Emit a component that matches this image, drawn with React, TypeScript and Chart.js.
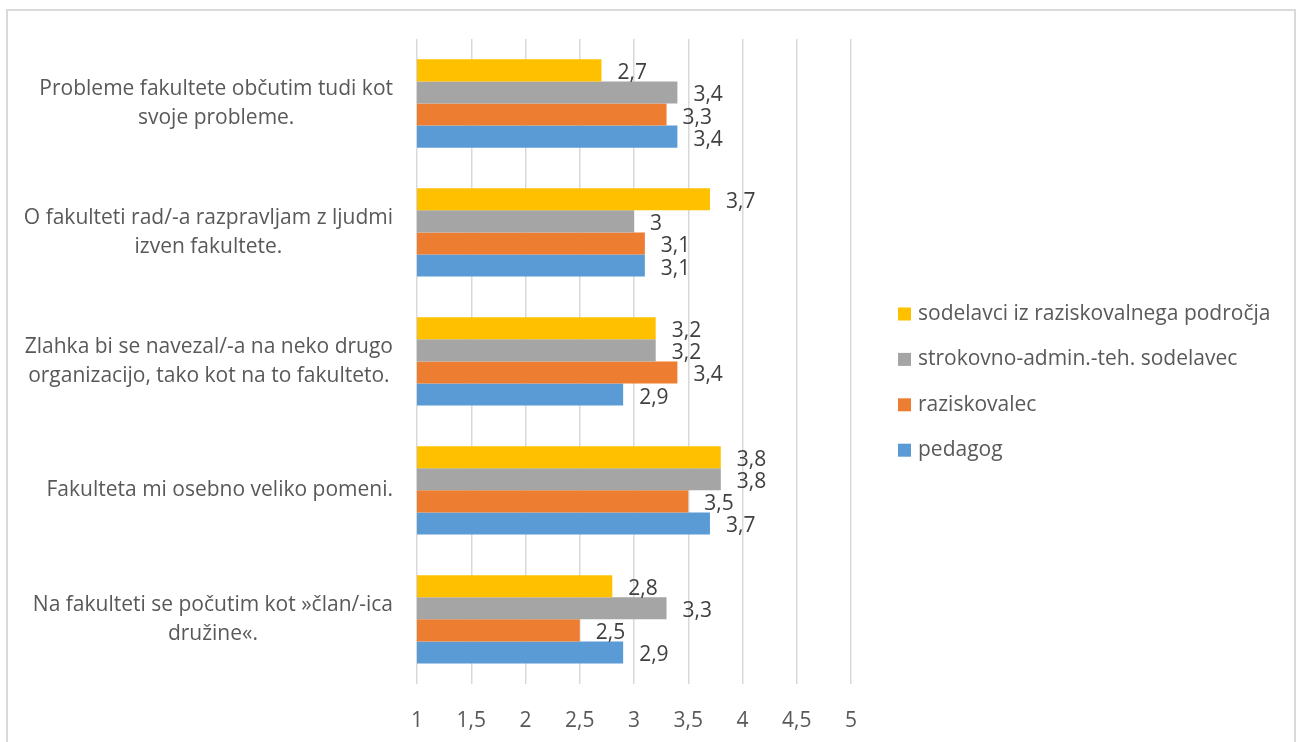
import React, { useEffect, useRef } from "react";
import { Chart, registerables } from "chart.js";

Chart.register(...registerables);

const categories: string[][] = [
  ["Probleme fakultete občutim tudi kot", "svoje probleme."],
  ["O fakulteti rad/-a razpravljam z ljudmi", "izven fakultete."],
  ["Zlahka bi se navezal/-a na neko drugo", "organizacijo, tako kot na to fakulteto."],
  ["Fakulteta mi osebno veliko pomeni."],
  ["Na fakulteti se počutim kot »član/-ica", "družine«."],
];

const seriesNames = [
  "sodelavci iz raziskovalnega področja",
  "strokovno-admin.-teh. sodelavec",
  "raziskovalec",
  "pedagog",
];
const seriesColors = ["#FFC000", "#A5A5A5", "#ED7D31", "#5B9BD5"];

const sodelavci = [2.7, 3.7, 3.2, 3.8, 2.8];
const strokovno = [3.4, 3.0, 3.2, 3.8, 3.3];
const raziskovalec = [3.3, 3.1, 3.4, 3.5, 2.5];
const pedagog = [3.4, 3.1, 2.9, 3.7, 2.9];

const xMin = 1;
const xMax = 5;
const xStep = 0.5;

const FONT = "'Open Sans', sans-serif";
const FS = 21;
const fmt = (v: number) => String(v).replace(".", ",");

const categoryLabelPlugin = {
  id: "categoryLabels",
  afterDraw(chart: any) {
    const { ctx, chartArea } = chart;
    const yScale = chart.scales.y;
    ctx.save();
    ctx.font = `${FS}px ${FONT}`;
    ctx.fillStyle = "#595959";
    ctx.textAlign = "center";
    ctx.textBaseline = "middle";
    const right = chartArea.left - 24;
    const lh = 29;
    (chart.data.labels as string[][]).forEach((lines, i) => {
      const cy = yScale.getPixelForValue(i);
      const w = Math.max(...lines.map((l) => ctx.measureText(l).width));
      const cx = right - w / 2;
      const y0 = cy - ((lines.length - 1) * lh) / 2;
      lines.forEach((l, j) => ctx.fillText(l, cx, y0 + j * lh));
    });
    ctx.restore();
  },
};

const valueLabelPlugin = {
  id: "valueLabels",
  afterDatasetsDraw(chart: any) {
    const { ctx } = chart;
    ctx.save();
    ctx.font = `${FS}px ${FONT}`;
    ctx.fillStyle = "#404040";
    ctx.textAlign = "left";
    ctx.textBaseline = "middle";
    chart.data.datasets.forEach((ds: any, di: number) => {
      const meta = chart.getDatasetMeta(di);
      meta.data.forEach((el: any, i: number) => {
        ctx.fillText(fmt(ds.data[i]), el.x + 16, el.y + 3);
      });
    });
    ctx.restore();
  },
};

const sideLegendPlugin = {
  id: "sideLegend",
  afterDraw(chart: any) {
    const { ctx, chartArea } = chart;
    ctx.save();
    ctx.font = `${FS}px ${FONT}`;
    ctx.textAlign = "left";
    ctx.textBaseline = "middle";
    const x = chartArea.right + 47;
    const y0 = chartArea.top + 275;
    const gap = 45.4;
    chart.data.datasets.forEach((ds: any, i: number) => {
      const y = y0 + i * gap;
      ctx.fillStyle = ds.backgroundColor;
      ctx.fillRect(x, y - 6.5, 13, 13);
      ctx.fillStyle = "#595959";
      ctx.fillText(ds.label, x + 20, y);
    });
    ctx.restore();
  },
};

export default function App() {
  const ref = useRef<HTMLCanvasElement | null>(null);

  useEffect(() => {
    if (!ref.current) return;
    const seriesData = [sodelavci, strokovno, raziskovalec, pedagog];
    const chart = new Chart(ref.current, {
      type: "bar",
      data: {
        labels: categories as any,
        datasets: seriesData.map((d, i) => ({
          label: seriesNames[i],
          data: d,
          backgroundColor: seriesColors[i],
          borderWidth: 0,
          categoryPercentage: 0.685,
          barPercentage: 1,
        })),
      },
      options: {
        indexAxis: "y",
        animation: false,
        responsive: false,
        maintainAspectRatio: false,
        devicePixelRatio: 1,
        layout: { padding: { left: 409, top: 28, right: 443, bottom: 8 } },
        plugins: {
          legend: { display: false },
          tooltip: { enabled: false },
        },
        scales: {
          x: {
            min: xMin,
            max: xMax,
            ticks: {
              stepSize: xStep,
              padding: 25,
              color: "#595959",
              font: { family: FONT, size: FS },
              callback: (v: any) => fmt(Number(v)),
            },
            grid: { color: "#D9D9D9", lineWidth: 1.5, drawTicks: false },
            border: { display: false },
          },
          y: { display: false },
        },
      },
      plugins: [categoryLabelPlugin, valueLabelPlugin, sideLegendPlugin],
    });
    return () => chart.destroy();
  }, []);

  return (
    <div
      style={{
        position: "absolute",
        left: 6,
        top: 9,
        boxSizing: "border-box",
        width: 1290,
        height: 760,
        borderTop: "2px solid #D9D9D9",
        borderLeft: "2px solid #D9D9D9",
        borderRight: "2px solid #D9D9D9",
        borderBottom: "2px solid #D9D9D9",
        background: "#fff",
      }}
    >
      <canvas ref={ref} width={1286} height={756} style={{ display: "block" }} />
    </div>
  );
}
